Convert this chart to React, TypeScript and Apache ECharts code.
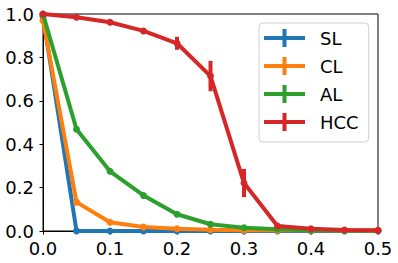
import React, { useEffect, useRef } from "react";
import * as echarts from "echarts";

const xValues = [0, 0.05, 0.1, 0.15, 0.2, 0.25, 0.3, 0.35, 0.4, 0.45, 0.5];
const seriesNames = ["SL", "CL", "AL", "HCC"];
const colors = ["#1f77b4", "#ff7f0e", "#2ca02c", "#d62728"];
const slValues = [0.99, 0.0, 0.0, 0.0, 0.0, 0.0, 0.0, 0.0, 0.0, 0.0, 0.0];
const clValues = [0.97, 0.133, 0.04, 0.018, 0.01, 0.006, 0.004, 0.003, 0.003, 0.002, 0.002];
const alValues = [1.0, 0.469, 0.275, 0.164, 0.077, 0.031, 0.015, 0.008, 0.004, 0.002, 0.001];
const hccValues = [1.0, 0.985, 0.962, 0.922, 0.865, 0.714, 0.221, 0.023, 0.01, 0.005, 0.003];
const slErrors = [0.005, 0, 0, 0, 0, 0, 0, 0, 0, 0, 0];
const clErrors = [0.005, 0.008, 0.004, 0.002, 0.001, 0, 0, 0, 0, 0, 0];
const alErrors = [0.003, 0.008, 0.006, 0.004, 0.003, 0.002, 0.001, 0, 0, 0, 0];
const hccErrors = [0, 0.005, 0.006, 0.008, 0.03, 0.07, 0.065, 0.005, 0.003, 0.002, 0.001];
const xTicks = [0, 0.1, 0.2, 0.3, 0.4, 0.5];
const yTicks = [0, 0.2, 0.4, 0.6, 0.8, 1.0];

const allValues = [slValues, clValues, alValues, hccValues];
const allErrors = [slErrors, clErrors, alErrors, hccErrors];

const FONT = "DejaVu Sans";

export default function App() {
  const ref = useRef<HTMLDivElement>(null);
  useEffect(() => {
    if (!ref.current) return;
    const chart = echarts.init(ref.current, null, { renderer: "svg" });
    const series: any[] = [];
    seriesNames.forEach((name, i) => {
      series.push({
        name,
        type: "line",
        data: xValues.map((x, j) => [x, allValues[i][j]]),
        symbol: "circle",
        symbolSize: 7,
        showSymbol: true,
        lineStyle: { width: 4, color: colors[i] },
        itemStyle: { color: colors[i] },
        clip: true,
        z: 2 + i * 2,
      });
      series.push({
        name: name + "_err",
        type: "custom",
        data: xValues.map((x, j) => [x, allValues[i][j], allErrors[i][j]]),
        renderItem: (params: any, api: any) => {
          const x = api.value(0);
          const y = api.value(1);
          const e = api.value(2);
          if (!e) return null;
          const p1 = api.coord([x, y - e]);
          const p2 = api.coord([x, y + e]);
          return {
            type: "line",
            shape: { x1: p1[0], y1: p1[1], x2: p2[0], y2: p2[1] },
            style: { stroke: colors[i], lineWidth: 4 },
          };
        },
        z: 3 + i * 2,
      });
    });
    const plusIcon = "path://M0,7H18.5V0H22.5V7H41V11H22.5V18H18.5V11H0Z";
    chart.setOption({
      animation: false,
      grid: {
        left: 43,
        right: 20,
        top: 14,
        bottom: 32,
        show: true,
        borderColor: "#000",
        borderWidth: 1,
        backgroundColor: "transparent",
      },
      legend: {
        data: seriesNames.map((n, i) => ({ name: n, icon: plusIcon, itemStyle: { color: colors[i] } })),
        orient: "vertical",
        left: 259,
        top: 23,
        itemWidth: 41,
        itemHeight: 18,
        itemGap: 10,
        padding: [6, 10, 11, 5],
        borderColor: "#d0d0d0",
        borderWidth: 1,
        borderRadius: 4,
        backgroundColor: "rgba(255,255,255,0.8)",
        textStyle: { fontFamily: FONT, fontSize: 18, color: "#000", padding: [0, 0, 0, 10], lineHeight: 18 },
      },
      xAxis: {
        type: "value",
        min: 0,
        max: 0.5,
        interval: 0.1,
        splitLine: { show: false },
        axisLine: { show: true, onZero: false, lineStyle: { color: "#000", width: 1 } },
        axisTick: { show: true, length: 3.5, lineStyle: { color: "#000", width: 1 } },
        axisLabel: {
          fontFamily: FONT,
          fontSize: 18,
          color: "#000",
          margin: 8,
          formatter: (v: number) => (xTicks.some((t) => Math.abs(t - v) < 1e-9) ? v.toFixed(1) : ""),
        },
      },
      yAxis: {
        type: "value",
        min: 0,
        max: 1,
        interval: 0.2,
        splitLine: { show: false },
        axisLine: { show: true, onZero: false, lineStyle: { color: "#000", width: 1 } },
        axisTick: { show: true, length: 3.5, lineStyle: { color: "#000", width: 1 } },
        axisLabel: {
          fontFamily: FONT,
          fontSize: 18,
          color: "#000",
          margin: 9,
          formatter: (v: number) => (yTicks.some((t) => Math.abs(t - v) < 1e-9) ? v.toFixed(1) : ""),
        },
      },
      series,
    });
    return () => chart.dispose();
  }, []);
  return (
    <div
      ref={ref}
      style={{ position: "fixed", left: 0, top: 0, width: 398, height: 263, background: "#fff" }}
    />
  );
}
